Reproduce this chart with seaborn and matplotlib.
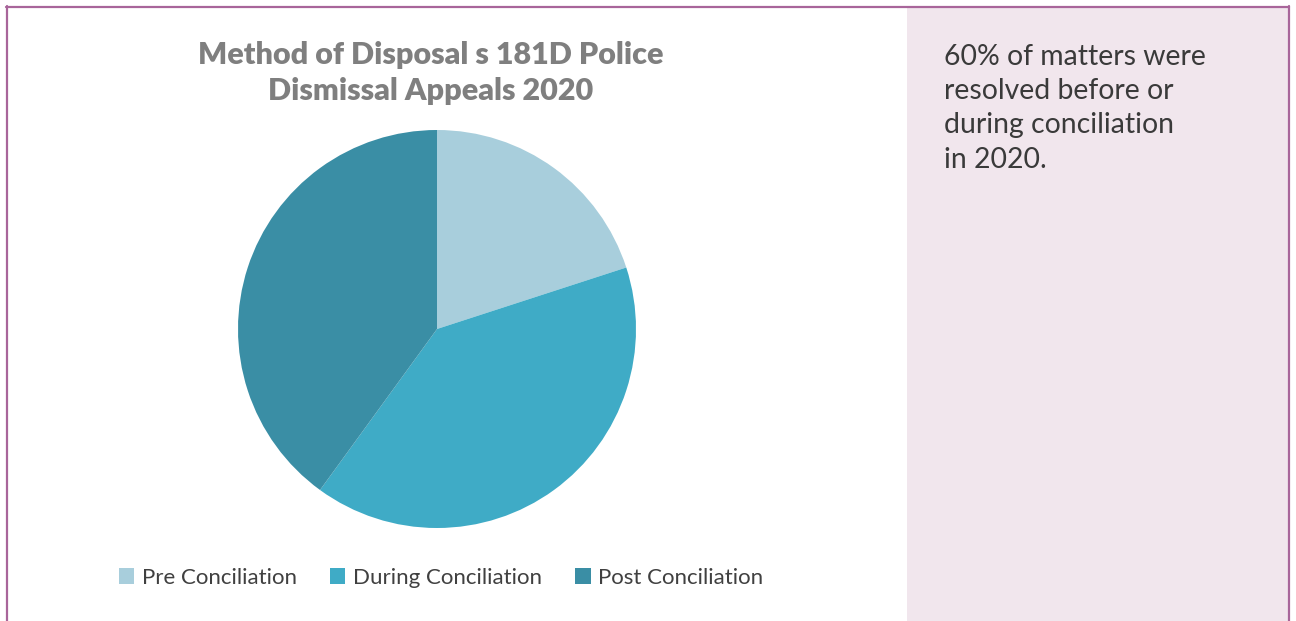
import matplotlib
matplotlib.use("Agg")
import matplotlib.pyplot as plt
from matplotlib.patches import Rectangle
from matplotlib.lines import Line2D
import seaborn as sns

categories = ["Pre Conciliation", "During Conciliation", "Post Conciliation"]
shares = [20, 40, 40]
colors = ["#A8CEDC", "#3FABC6", "#3A8EA5"]
title = "Method of Disposal s 181D Police\nDismissal Appeals 2020"
note = "60% of matters were\nresolved before or\nduring conciliation\nin 2020."

sns.set_theme(style="white")
plt.rcParams["font.family"] = ["Lato", "DejaVu Sans"]

W, H = 1296, 621
fig = plt.figure(figsize=(W / 100, H / 100), dpi=100)
fig.patch.set_facecolor("white")

def fx(px):
    return px / W

def fy(py):
    return 1 - py / H

# side panel and frame
fig.patches.append(Rectangle((fx(907), 0), fx(1288) - fx(907), fy(7), transform=fig.transFigure,
                             facecolor="#F1E6ED", edgecolor="none", zorder=0))
frame = "#A8659A"
fig.lines.append(Line2D([fx(6), fx(1289)], [fy(6.5), fy(6.5)], transform=fig.transFigure, color=frame, lw=1.6))
fig.lines.append(Line2D([fx(6.5), fx(6.5)], [0, fy(6)], transform=fig.transFigure, color=frame, lw=1.6))
fig.lines.append(Line2D([fx(1288.5), fx(1288.5)], [0, fy(6)], transform=fig.transFigure, color=frame, lw=1.6))

# pie
cx, cy, r = 437, 329, 199
ax = fig.add_axes([fx(cx - r), fy(cy + r), 2 * r / W, 2 * r / H])
wedges, _ = ax.pie(shares, colors=sns.color_palette(colors), startangle=90, counterclock=False,
                   radius=1, wedgeprops=dict(linewidth=0))
ax.set_xlim(-1, 1)
ax.set_ylim(-1, 1)
ax.set_aspect("equal")
ax.axis("off")

fig.text(fx(431), fy(73), title, ha="center", va="center", fontsize=22, fontweight="heavy",
         color="#7F7F7F", linespacing=1.36)

fig.text(fx(944), fy(44), note, ha="left", va="top", fontsize=20.4, color="#3A3A3A", linespacing=1.39)

fig.legend(wedges, categories, loc="center", bbox_to_anchor=(fx(441), fy(578)), ncol=3, frameon=False,
           fontsize=16, handlelength=0.7, handleheight=0.7, handletextpad=0.35, columnspacing=1.48,
           labelcolor="#404040")

fig.savefig("out.png", dpi=100)
